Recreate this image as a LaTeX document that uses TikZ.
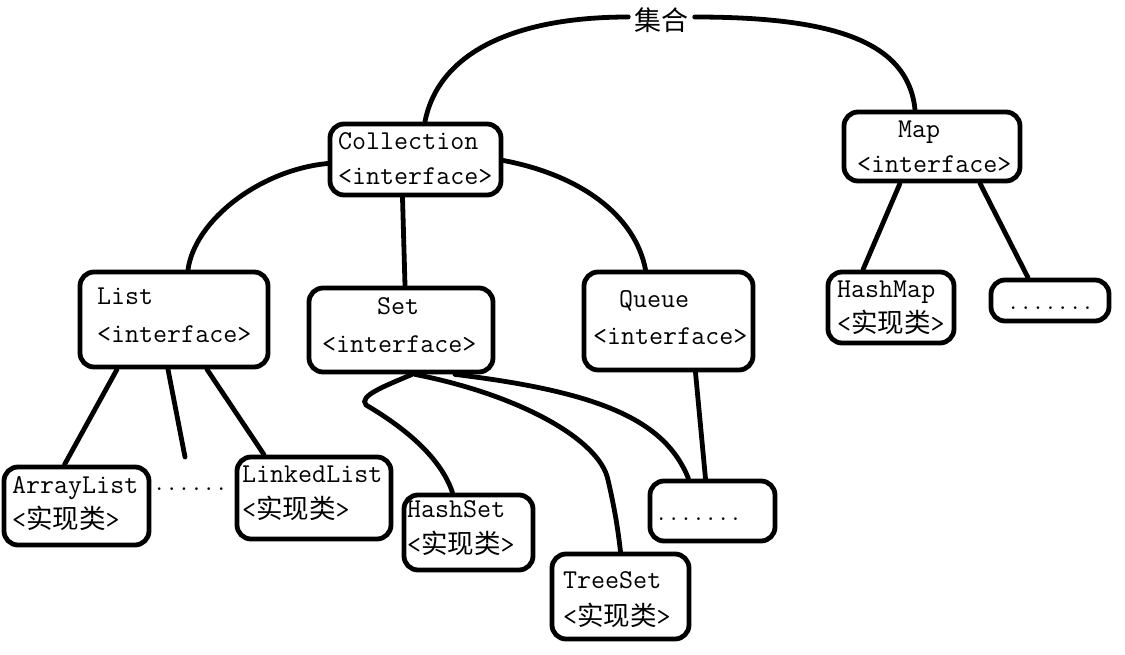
\documentclass[tikz,border=0pt]{standalone}
\usepackage{fontspec}
\newfontfamily\cjk{Noto Sans CJK SC}
\usetikzlibrary{calc}
\newcommand\zhtxt[1]{{\cjk\fontsize{26.5}{30}\selectfont #1}}
\begin{document}
\begin{tikzpicture}[x=1pt,y=-1pt,
  box/.style={draw, line width=4.8pt, rounded corners=14pt, inner sep=0pt},
  conn/.style={line width=4.8pt, line cap=round},
  lbl/.style={anchor=base west, inner sep=0pt, font=\ttfamily\fontsize{27.2}{30}\selectfont},
  dotlbl/.style={anchor=base west, inner sep=0pt, font=\ttfamily\fontsize{24}{28}\selectfont}]
\useasboundingbox (0,0) rectangle (1125,655);

% root label
\node[inner sep=6pt, font=\cjk\fontsize{27}{30}\selectfont] (jihe) at (661.5,20) {集合};

% boxes
\node[box, minimum width=171pt, minimum height=71pt] (coll) at (415.5,159.5) {};
\node[box, minimum width=176pt, minimum height=69pt] (map) at (932,146.5) {};
\node[box, minimum width=188pt, minimum height=95pt] (list) at (174,319.5) {};
\node[box, minimum width=184pt, minimum height=84pt] (set) at (401,330) {};
\node[box, minimum width=169pt, minimum height=98pt] (queue) at (668.5,321) {};
\node[box, minimum width=126pt, minimum height=71pt] (hashmap) at (891,307.5) {};
\node[box, minimum width=118pt, minimum height=41pt] (mapdots) at (1050,300.5) {};
\node[box, minimum width=145pt, minimum height=78pt] (arraylist) at (76.5,506) {};
\node[box, minimum width=154pt, minimum height=82pt] (linkedlist) at (314,498) {};
\node[box, minimum width=129pt, minimum height=75pt] (hashset) at (468.5,532.5) {};
\node[box, minimum width=137pt, minimum height=85pt] (treeset) at (620.5,596.5) {};
\node[box, minimum width=125pt, minimum height=60pt] (queuedots) at (712.5,511) {};

% texts
\node[lbl] (collA) at (338,150) {Collection};
\node[lbl] (collB) at (338,185) {<interface>};
\node[lbl] (mapA) at (898,138) {Map};
\node[lbl] (mapB) at (857,173) {<interface>};
\node[lbl] (listA) at (97,305) {List};
\node[lbl] (listB) at (97,342) {<interface>};
\node[lbl] (setA) at (377,315) {Set};
\node[lbl] (setB) at (322,352) {<interface>};
\node[lbl] (queueA) at (619,308) {Queue};
\node[lbl] (queueB) at (593,344) {<interface>};
\node[lbl] (hashmapA) at (837,298) {HashMap};
\node[lbl] (hashmapB) at (837,332) {<\zhtxt{实现类}>};
\node[lbl] (arraylistA) at (12,493) {ArrayList};
\node[lbl] (arraylistB) at (12,528) {<\zhtxt{实现类}>};
\node[lbl] (linkedlistA) at (242,482) {LinkedList};
\node[lbl] (linkedlistB) at (242,518) {<\zhtxt{实现类}>};
\node[lbl] (hashsetA) at (407,517) {HashSet};
\node[lbl] (hashsetB) at (407,553) {<\zhtxt{实现类}>};
\node[lbl] (treesetA) at (563,588) {TreeSet};
\node[lbl] (treesetB) at (563,625) {<\zhtxt{实现类}>};
\node[dotlbl] (queuedotsT) at (655,520) {.......};
\node[dotlbl] (mapdotsT) at (1007,309) {.......};
\node[dotlbl] (listdotsT) at (153,490) {......};

\coordinate (listmore) at (185,457);

% connectors
\draw[conn] ($(coll.north)+(9.5,0)$) .. controls (438,55) and (510,17) .. ($(jihe.west)+(0,-3)$);
\draw[conn] ($(jihe.east)+(0,-3)$) .. controls (830,17) and (908,40) .. ($(map.north)+(-17,0)$);
\draw[conn] ($(coll.west)+(0,4)$) .. controls (260,170) and (195,220) .. ($(list.north)+(14,0)$);
\draw[conn] ($(coll.south)+(-13,0)$) -- ($(set.north)+(4,0)$);
\draw[conn] ($(coll.east)+(0,1)$) .. controls (580,175) and (635,215) .. ($(queue.north)+(-23,0)$);
\draw[conn] ($(map.south)+(-32,0)$) -- ($(hashmap.north)+(-28,0)$);
\draw[conn] ($(map.south)+(48,0)$) -- ($(mapdots.north)+(-22,0)$);
\draw[conn] ($(list.south)+(-57,0)$) -- ($(arraylist.north)+(-12,0)$);
\draw[conn] ($(list.south)+(-6,0)$) -- (listmore);
\draw[conn] ($(list.south)+(33,0)$) -- ($(linkedlist.north)+(-50,0)$);
\draw[conn] ($(set.south)+(11,0)$) .. controls (385,386) and (358,396) .. (366,405)
            .. controls (400,425) and (440,455) .. ($(hashset.north)+(-16,0)$);
\draw[conn] ($(set.south)+(14,0)$) .. controls (520,395) and (600,440) .. (608,480)
            .. controls (615,510) and (618,530) .. (treeset.north);
\draw[conn] ($(set.south)+(54,0)$) .. controls (600,392) and (665,420) .. ($(queuedots.north)+(-24,0)$);
\draw[conn] ($(queue.south)+(27,0)$) -- ($(queuedots.north)+(-7,0)$);
\end{tikzpicture}
\end{document}
